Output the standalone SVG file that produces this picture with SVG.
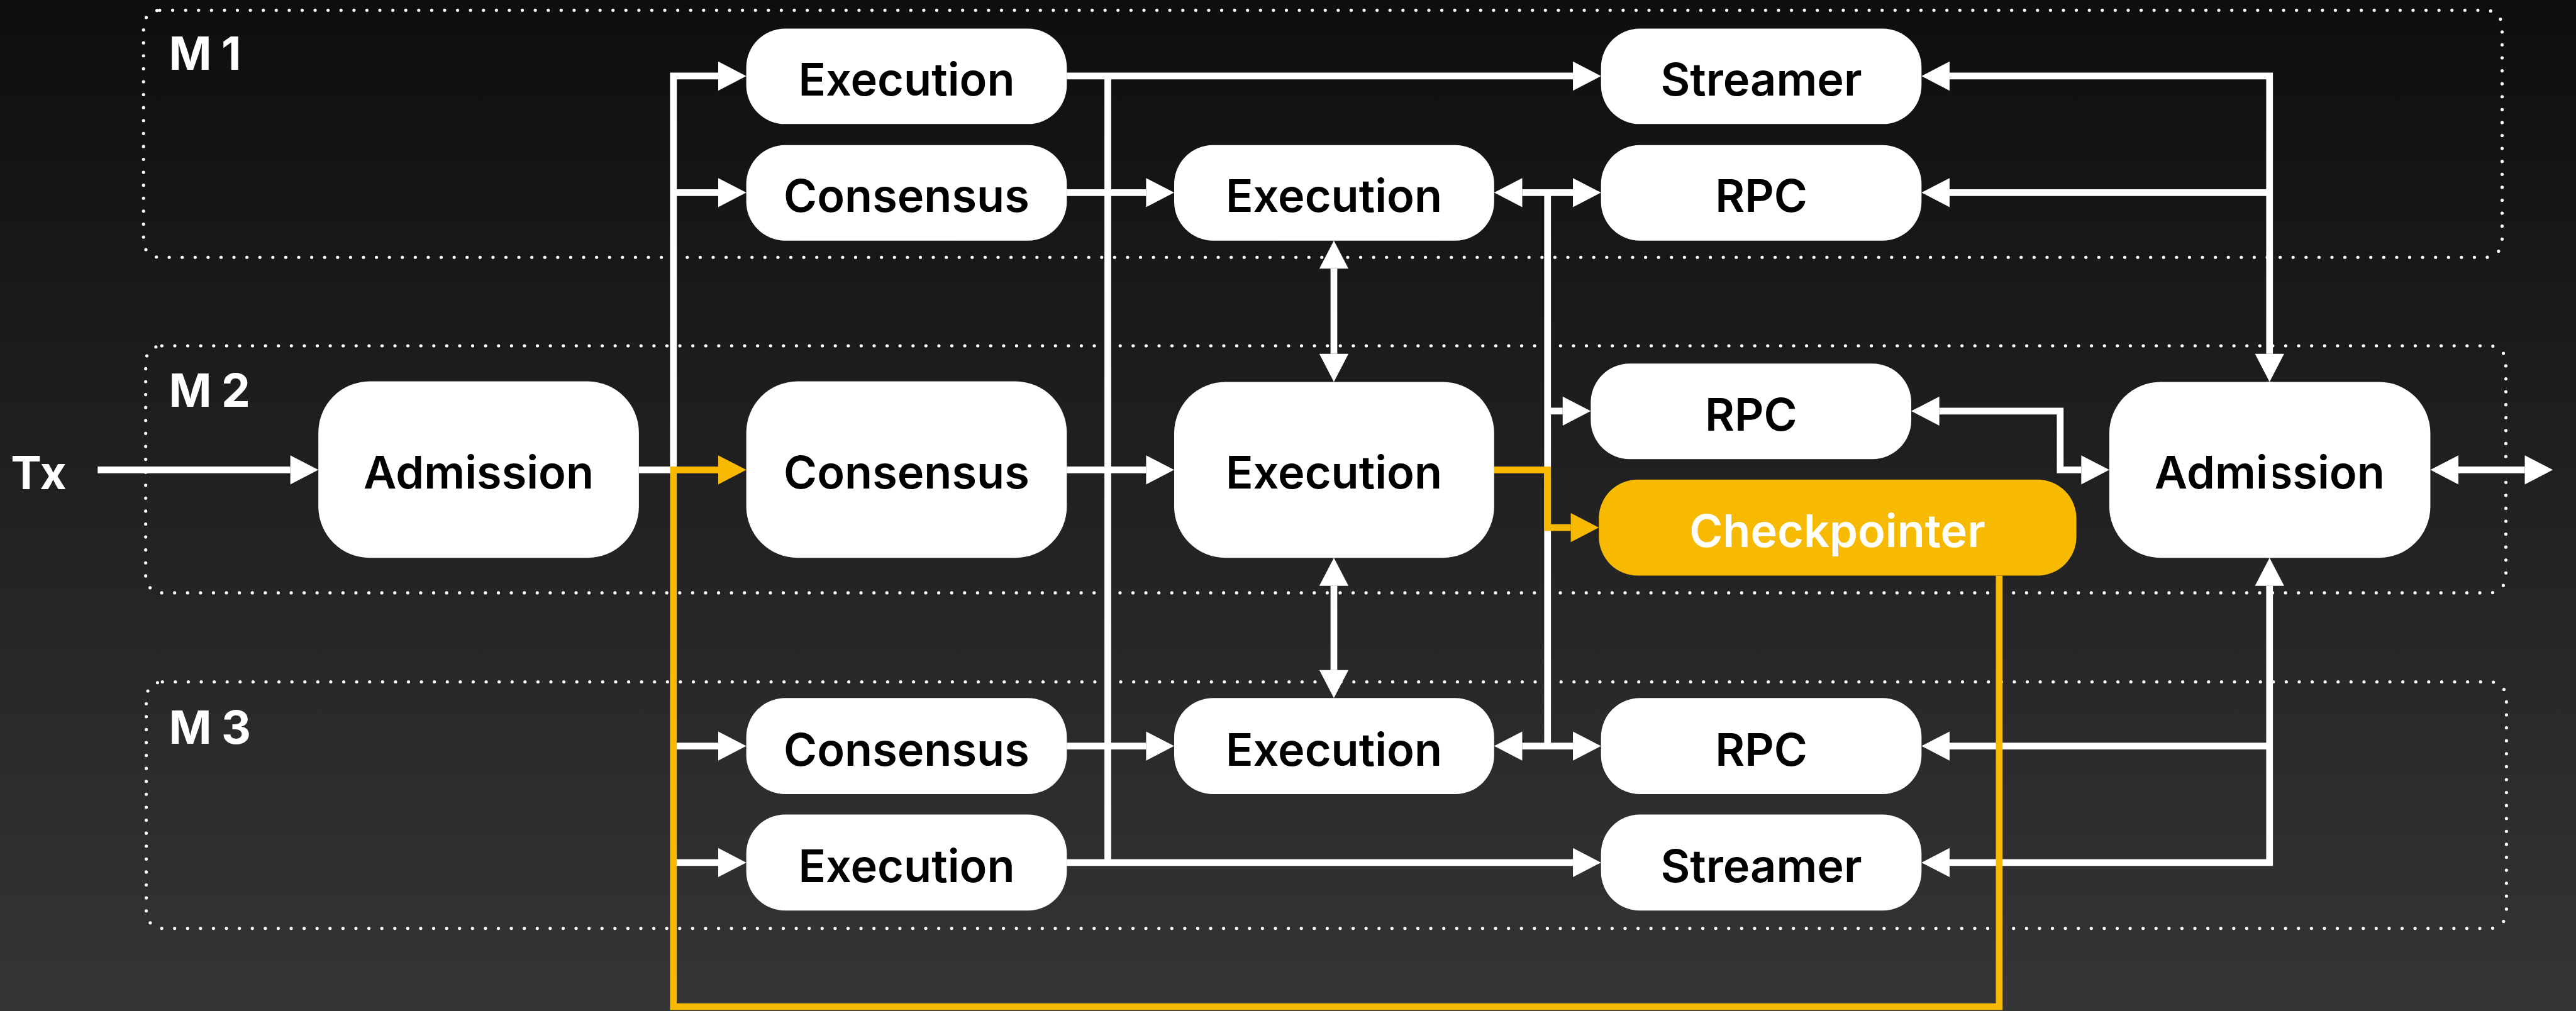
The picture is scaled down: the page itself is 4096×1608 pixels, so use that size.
<svg xmlns="http://www.w3.org/2000/svg" width="4096" height="1608" viewBox="0 0 4096 1608">
  <defs>
    <linearGradient id="bg" x1="0" y1="0" x2="0" y2="1">
      <stop offset="0" stop-color="#0e0e0e"/>
      <stop offset="1" stop-color="#353535"/>
    </linearGradient>
    <marker id="aw" markerUnits="userSpaceOnUse" markerWidth="60" markerHeight="60" viewBox="0 -30 56 60" refX="0" refY="0" orient="auto-start-reverse">
      <path d="M0,-27 L52,0 L0,27 z" fill="#ffffff"/>
    </marker>
    <marker id="ay" markerUnits="userSpaceOnUse" markerWidth="60" markerHeight="60" viewBox="0 -30 56 60" refX="0" refY="0" orient="auto-start-reverse">
      <path d="M0,-27 L52,0 L0,27 z" fill="#f8ba00"/>
    </marker>
    <style>
      .grp { fill: none; stroke: #ffffff; stroke-width: 6; stroke-dasharray: 0 24; stroke-linecap: round; }
      .lbl { font-family: Inter, "Liberation Sans", sans-serif; font-weight: 700; font-size: 85px; fill: #ffffff; }
      .node rect { fill: #ffffff; }
      .node text { font-family: Inter, "Liberation Sans", sans-serif; font-weight: 600; font-size: 84px; fill: #000000; text-anchor: middle; }
      .node.hl rect { fill: #f8ba00; }
      .node.hl text { fill: #ffffff; }
      .w { fill: none; stroke: #ffffff; stroke-width: 12.5; }
      .y { fill: none; stroke: #f8ba00; stroke-width: 12.5; }
      .w.e { marker-end: url(#aw); }
      .w.b { marker-start: url(#aw); marker-end: url(#aw); }
      .y.e { marker-end: url(#ay); }
    </style>
  </defs>

  <rect x="0" y="0" width="4096" height="1608" fill="url(#bg)"/>

  <g transform="scale(0.858)">
    <!-- machine groups -->
    <g id="machines">
      <rect class="grp" x="266" y="19" width="4371" height="458" rx="30"/>
      <rect class="grp" x="270" y="641" width="4374" height="458" rx="30"/>
      <rect class="grp" x="271" y="1264" width="4374" height="457" rx="30"/>
      <text class="lbl" x="313" y="129" letter-spacing="18">M1</text>
      <text class="lbl" x="313" y="754" letter-spacing="18">M2</text>
      <text class="lbl" x="313" y="1379" letter-spacing="18">M3</text>
      <text class="lbl" x="20" y="907">Tx</text>
    </g>

    <!-- connectors underneath the nodes -->
    <g id="connectors">
      <path class="w e" d="M181 871 H538"/>
      <path class="w e" d="M1184 871 H1248 V141 H1331"/>
      <path class="w e" d="M1248 357 H1331"/>
      <path class="w e" d="M1248 1383 H1331"/>
      <path class="w e" d="M1248 1599 H1331"/>
      <path class="w e" d="M1977 141 H2915"/>
      <path class="w" d="M2053 141 V1599"/>
      <path class="w e" d="M1977 1599 H2915"/>
      <path class="w e" d="M1977 357 H2124"/>
      <path class="w e" d="M1977 871 H2124"/>
      <path class="w e" d="M1977 1383 H2124"/>
      <path class="w b" d="M2821 357 H2915"/>
      <path class="w b" d="M2821 1383 H2915"/>
      <path class="w" d="M2868 357 V1383"/>
      <path class="w e" d="M2868 762 H2896"/>
      <path class="w b" d="M2472 498 V656"/>
      <path class="w b" d="M2472 1086 V1242"/>
      <path class="w b" d="M3613 141 H4206 V656"/>
      <path class="w e" d="M4206 357 H3613"/>
      <path class="w b" d="M4206 1086 V1599 H3613"/>
      <path class="w e" d="M4206 1383 H3613"/>
      <path class="w b" d="M3594 762 H3818 V871 H3857"/>
      <path class="w b" d="M4556 871 H4679"/>
      <path class="y e" d="M3705 1067 V1866 H1248 V871 H1331"/>
      <path class="y e" d="M2769 871 H2868 V978 H2911"/>
    </g>

    <!-- M2 -->
    <g id="admission-in" class="node">
      <rect x="590" y="707" width="594" height="327" rx="95"/>
      <text x="887" y="906">Admission</text>
    </g>
    <!-- M1 -->
    <g id="m1-execution" class="node">
      <rect x="1383" y="53" width="594" height="177" rx="72"/>
      <text x="1680" y="177">Execution</text>
    </g>
    <g id="m1-consensus" class="node">
      <rect x="1383" y="269" width="594" height="177" rx="72"/>
      <text x="1680" y="393">Consensus</text>
    </g>
    <g id="m1-execution-2" class="node">
      <rect x="2176" y="269" width="593" height="177" rx="72"/>
      <text x="2472" y="393">Execution</text>
    </g>
    <g id="m1-streamer" class="node">
      <rect x="2967" y="53" width="594" height="177" rx="72"/>
      <text x="3264" y="177">Streamer</text>
    </g>
    <g id="m1-rpc" class="node">
      <rect x="2967" y="269" width="594" height="177" rx="72"/>
      <text x="3264" y="393">RPC</text>
    </g>
    <!-- M2 -->
    <g id="m2-consensus" class="node">
      <rect x="1383" y="707" width="594" height="327" rx="95"/>
      <text x="1680" y="906">Consensus</text>
    </g>
    <g id="m2-execution" class="node">
      <rect x="2176" y="708" width="593" height="326" rx="95"/>
      <text x="2472" y="906">Execution</text>
    </g>
    <g id="m2-rpc" class="node">
      <rect x="2948" y="674" width="594" height="177" rx="72"/>
      <text x="3245" y="798">RPC</text>
    </g>
    <g id="m2-checkpointer" class="node hl">
      <rect x="2963" y="889" width="885" height="178" rx="72"/>
      <text x="3405" y="1014">Checkpointer</text>
    </g>
    <g id="admission-out" class="node">
      <rect x="3909" y="708" width="595" height="326" rx="95"/>
      <text x="4206" y="906">Admission</text>
    </g>
    <!-- M3 -->
    <g id="m3-consensus" class="node">
      <rect x="1383" y="1294" width="594" height="178" rx="72"/>
      <text x="1680" y="1419">Consensus</text>
    </g>
    <g id="m3-execution-2" class="node">
      <rect x="2176" y="1294" width="593" height="178" rx="72"/>
      <text x="2472" y="1419">Execution</text>
    </g>
    <g id="m3-rpc" class="node">
      <rect x="2967" y="1294" width="594" height="178" rx="72"/>
      <text x="3264" y="1419">RPC</text>
    </g>
    <g id="m3-execution" class="node">
      <rect x="1383" y="1510" width="594" height="178" rx="72"/>
      <text x="1680" y="1635">Execution</text>
    </g>
    <g id="m3-streamer" class="node">
      <rect x="2967" y="1510" width="594" height="178" rx="72"/>
      <text x="3264" y="1635">Streamer</text>
    </g>

    <!-- riser running straight through the outbound admission box -->
    <g id="connector-overlay">
      <path class="w" d="M4206 708 V1034"/>
    </g>
  </g>
</svg>
